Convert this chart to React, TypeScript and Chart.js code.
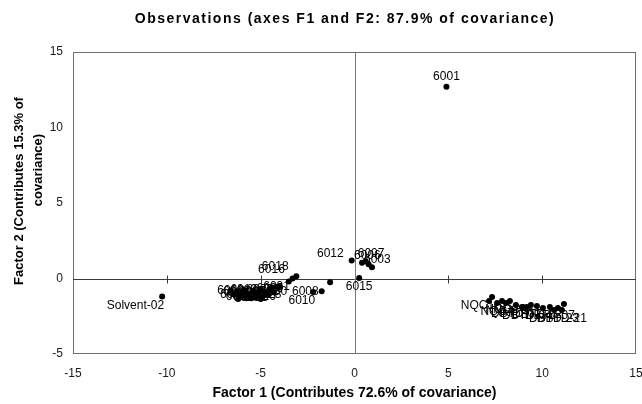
import React, { useEffect, useRef } from 'react';
import { Chart, registerables } from 'chart.js';

Chart.register(...registerables);

// Observation names and their coordinates on the first two factors
const names = [
  '6001',
  '6012', '6006', '6007', '6004', '6003', '6015',
  '6008', '6010', '6009',
  '6016', '6018', '6011',
  '6002', '6005', '6013', '6014', '6017', '6019', '6020', '6021', '6022',
  '6023', '6024', '6025', '6026', '6027', '6028', '6029', '6030', '6031',
  '6034', '6035', '6036', '6037', '6038',
  'Solvent-02',
  'NQC1', 'NQC3', 'NQC2', 'NQC4', 'NQC5', 'NQC6',
  'DBTD-01', 'DBTD-03', 'DBTD-04', 'DBTD-05', 'DBTD-02', 'DBTD-06',
  'DBTD-07', 'DBTD-23', 'DBTD-08', 'DBTD-21', 'DBTD-09',
];

const factor1 = [
  4.9,
  -0.15, 0.4, 0.6, 0.75, 0.93, 0.25,
  -1.75, -2.2, -1.3,
  -3.5, -3.3, -3.1,
  -6.6, -6.45, -6.3, -6.15, -6.0, -5.9, -5.75, -5.6, -5.45,
  -5.3, -5.2, -5.05, -4.9, -4.75, -4.6, -4.5, -4.3, -4.15,
  -6.2, -5.5, -5.0, -4.4, -4.0,
  -10.25,
  7.33, 7.17, 7.86, 7.6, 8.07, 8.28,
  8.6, 8.92, 9.19, 9.4, 9.72, 10.04,
  10.41, 10.63, 10.84, 11.05, 11.16,
];

const factor2 = [
  12.7,
  1.2, 1.05, 1.15, 0.95, 0.75, 0.03,
  -0.85, -0.9, -0.25,
  -0.2, 0.0, 0.15,
  -0.8, -1.05, -0.9, -1.2, -1.0, -0.75, -1.3, -1.05, -0.85,
  -1.25, -1.0, -0.75, -1.2, -0.95, -1.1, -0.7, -0.9, -0.55,
  -1.35, -1.3, -1.35, -0.6, -0.5,
  -1.2,
  -1.22, -1.49, -1.49, -1.62, -1.62, -1.49,
  -1.75, -1.89, -1.89, -1.75, -1.82, -1.95,
  -1.89, -2.09, -1.95, -2.09, -1.69,
];

// Where each name sits relative to its point
const labelSide = [
  'a',
  'al', 'ar', 'ar', 'n', 'ar', 'b',
  'l', 'bl', 'n',
  'ul', 'ul', 'n',
  'c', 'c', 'c', 'c', 'c', 'c', 'c', 'c', 'c',
  'c', 'c', 'c', 'c', 'c', 'c', 'c', 'c', 'c',
  'n', 'n', 'n', 'n', 'n',
  'bl',
  'bl', 'n', 'b', 'b', 'n', 'b',
  'b', 'n', 'b', 'n', 'b', 'n',
  'b', 'b', 'n', 'b', 'n',
];

const X_MIN = -15;
const X_MAX = 15;
const Y_MIN = -5;
const Y_MAX = 15;
const STEP = 5;

const titleText = 'Observations (axes F1 and F2: 87.9% of covariance)';
const xTitle = 'Factor 1 (Contributes 72.6% of covariance)';
const yTitleLines = ['Factor 2 (Contributes 15.3% of', 'covariance)'];

const FONT = '"Liberation Sans", Arial, sans-serif';

const decorPlugin = {
  id: 'decor',
  beforeDatasetsDraw(chart: any) {
    const { ctx, chartArea: a, scales } = chart;
    const xs = scales.x;
    const ys = scales.y;
    ctx.save();
    // frame
    ctx.strokeStyle = '#6e6e6e';
    ctx.lineWidth = 1;
    ctx.strokeRect(a.left + 0.5, a.top + 0.5, a.right - a.left - 1, a.bottom - a.top - 1);
    // axes through the origin
    const x0 = Math.round(xs.getPixelForValue(0)) + 0.5;
    const y0 = Math.round(ys.getPixelForValue(0)) + 0.5;
    ctx.strokeStyle = '#3a3a3a';
    ctx.beginPath();
    ctx.moveTo(a.left, y0);
    ctx.lineTo(a.right, y0);
    ctx.stroke();
    ctx.strokeStyle = '#777';
    ctx.beginPath();
    ctx.moveTo(x0, a.top);
    ctx.lineTo(x0, a.bottom);
    ctx.stroke();
    ctx.strokeStyle = '#3a3a3a';
    ctx.beginPath();
    for (let v = X_MIN + STEP; v < X_MAX; v += STEP) {
      if (v === 0) continue;
      const px = Math.round(xs.getPixelForValue(v)) + 0.5;
      ctx.moveTo(px, y0 - 4);
      ctx.lineTo(px, y0 + 4);
    }
    ctx.stroke();
    ctx.restore();
  },
  afterDatasetsDraw(chart: any) {
    const { ctx, chartArea: a, scales } = chart;
    const xs = scales.x;
    const ys = scales.y;
    ctx.save();
    // point names
    ctx.fillStyle = '#000';
    ctx.font = `12px ${FONT}`;
    ctx.textBaseline = 'middle';
    names.forEach((name, i) => {
      const side = labelSide[i];
      if (side === 'n') return;
      const px = xs.getPixelForValue(factor1[i]);
      const py = ys.getPixelForValue(factor2[i]);
      let tx = px;
      let ty = py;
      let align: CanvasTextAlign = 'center';
      if (side === 'a') { ty = py - 10; }
      else if (side === 'b') { ty = py + 9; }
      else if (side === 'l') { align = 'right'; tx = px - 3; }
      else if (side === 'bl') { align = 'right'; tx = px + 2; ty = py + 9; }
      else if (side === 'al') { align = 'right'; tx = px - 8; ty = py - 7; }
      else if (side === 'ar') { align = 'left'; tx = px - 8; ty = py - 7; }
      else if (side === 'ul') { align = 'right'; tx = px - 4; ty = py - 12; }
      ctx.textAlign = align;
      ctx.fillText(name, tx, ty);
    });
    // titles
    ctx.font = `bold 14px ${FONT}`;
    ctx.textAlign = 'center';
    (ctx as any).letterSpacing = '1.5px';
    ctx.fillText(titleText, 345, 19);
    (ctx as any).letterSpacing = '0px';
    ctx.fillText(xTitle, (a.left + a.right) / 2, 393);
    ctx.font = `bold 13px ${FONT}`;
    const yc = (a.top + a.bottom) / 2;
    ctx.save();
    ctx.translate(19, yc - 12);
    ctx.rotate(-Math.PI / 2);
    ctx.fillText(yTitleLines[0], 0, 0);
    ctx.restore();
    ctx.save();
    ctx.translate(38, yc - 33);
    ctx.rotate(-Math.PI / 2);
    ctx.fillText(yTitleLines[1], 0, 0);
    ctx.restore();
    ctx.restore();
  },
};

export default function App() {
  const ref = useRef<HTMLCanvasElement | null>(null);

  useEffect(() => {
    document.body.style.margin = '0';
    const canvas = ref.current;
    if (!canvas) return;
    const points = factor1.map((x, i) => ({ x, y: factor2[i] }));
    const chart = new Chart(canvas, {
      type: 'scatter',
      data: {
        datasets: [
          {
            data: points,
            backgroundColor: '#000',
            borderColor: '#000',
            pointRadius: 3,
            pointBorderWidth: 0,
          },
        ],
      },
      options: {
        animation: false,
        responsive: false,
        maintainAspectRatio: false,
        layout: { padding: { top: 52, right: 6, left: 0, bottom: 0 } },
        plugins: {
          legend: { display: false },
          tooltip: { enabled: false },
          title: { display: false },
        },
        scales: {
          x: {
            type: 'linear',
            min: X_MIN,
            max: X_MAX,
            ticks: {
              stepSize: STEP,
              padding: 12,
              maxRotation: 0,
              color: '#1a1a1a',
              font: { family: FONT, size: 12 },
            },
            grid: { display: false, drawTicks: false },
            border: { display: false },
            afterFit: (s: any) => {
              s.height = 50;
              s.paddingLeft = 0;
              s.paddingRight = 0;
            },
          },
          y: {
            type: 'linear',
            min: Y_MIN,
            max: Y_MAX,
            ticks: {
              stepSize: STEP,
              padding: 10,
              color: '#1a1a1a',
              font: { family: FONT, size: 12 },
            },
            grid: { display: false, drawTicks: false },
            border: { display: false },
            afterFit: (s: any) => {
              s.width = 73;
              s.paddingTop = 0;
              s.paddingBottom = 0;
            },
          },
        },
      },
      plugins: [decorPlugin],
    });
    return () => chart.destroy();
  }, []);

  return (
    <div style={{ position: 'absolute', left: 0, top: 0, width: 642, height: 404, background: '#fff' }}>
      <canvas ref={ref} width={642} height={404} />
    </div>
  );
}
